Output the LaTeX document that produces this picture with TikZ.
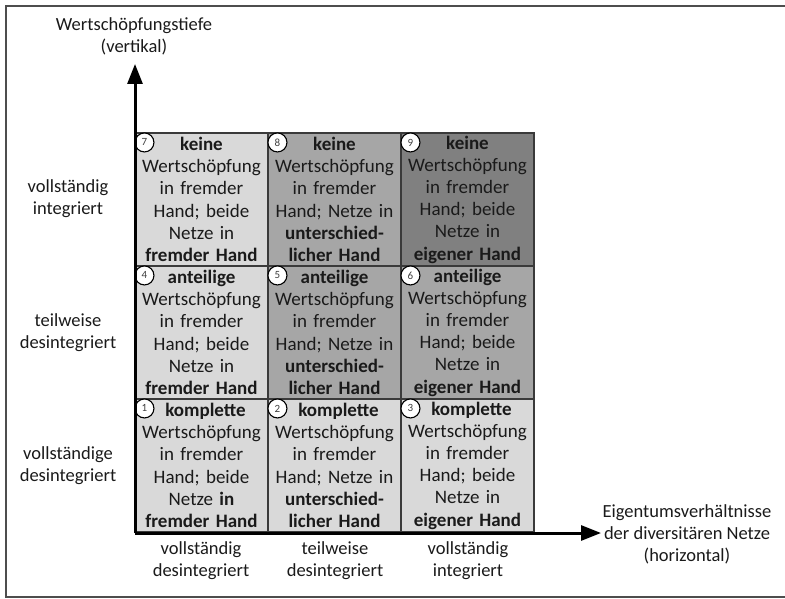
\documentclass[tikz,border=0pt]{standalone}
\usepackage{fontspec}
\setmainfont{Carlito}
\usetikzlibrary{arrows.meta}
\definecolor{framecol}{HTML}{4D4D4D}
\definecolor{cellline}{HTML}{3A3A3A}
\definecolor{light}{HTML}{D9D9D9}
\definecolor{mid}{HTML}{A6A6A6}
\definecolor{dark}{HTML}{808080}
\definecolor{txt}{HTML}{1A1A1A}
\begin{document}
\begin{tikzpicture}[x=1pt,y=-1pt,
  cell/.style={draw=cellline, line width=1.1pt, minimum width=133pt, minimum height=133pt,
    inner sep=0pt, text width=131pt, align=center, text=txt,
    font=\fontsize{19}{22.2}\selectfont},
  numc/.style={circle, draw=black, fill=white, line width=1.1pt, minimum size=19pt,
    inner sep=0pt, text=black!75, font=\fontsize{11}{11}\selectfont},
  lbl/.style={align=center, text=txt, inner sep=0pt, font=\fontsize{18.5}{22}\selectfont},
  axis/.style={line width=3pt, -{Triangle[length=20pt,width=15pt]}}
]
\useasboundingbox (0,0) rectangle (785,599);
\draw[framecol, line width=1.6pt] (790,6) -- (6,6) -- (6,597) -- (790,597);

% row 3 (top)
\node[cell, fill=light] (c7) at (201.5,199.5) {\textbf{keine}\\Wertschöpfung\\in fremder\\Hand; beide\\Netze in\\\textbf{fremder Hand}};
\node[cell, fill=mid] (c8) at (334.5,199.5) {\textbf{keine}\\Wertschöpfung\\in fremder\\Hand; Netze in\\\textbf{unterschied-}\\\textbf{licher Hand}};
\node[cell, fill=dark] (c9) at (467.5,199.5) {\textbf{keine}\\Wertschöpfung\\in fremder\\Hand; beide\\Netze in\\\textbf{eigener Hand}};
% row 2
\node[cell, fill=light] (c4) at (201.5,332.5) {\textbf{anteilige}\\Wertschöpfung\\in fremder\\Hand; beide\\Netze in\\\textbf{fremder Hand}};
\node[cell, fill=mid] (c5) at (334.5,332.5) {\textbf{anteilige}\\Wertschöpfung\\in fremder\\Hand; Netze in\\\textbf{unterschied-}\\\textbf{licher Hand}};
\node[cell, fill=mid] (c6) at (467.5,332.5) {\textbf{anteilige}\\Wertschöpfung\\in fremder\\Hand; beide\\Netze in\\\textbf{eigener Hand}};
% row 1
\node[cell, fill=light] (c1) at (201.5,465.5) {\hspace*{8pt}\textbf{komplette}\\Wertschöpfung\\in fremder\\Hand; beide\\Netze \textbf{in}\\\textbf{fremder Hand}};
\node[cell, fill=light] (c2) at (334.5,465.5) {\hspace*{8pt}\textbf{komplette}\\Wertschöpfung\\in fremder\\Hand; Netze in\\\textbf{unterschied-}\\\textbf{licher Hand}};
\node[cell, fill=light] (c3) at (467.5,465.5) {\hspace*{8pt}\textbf{komplette}\\Wertschöpfung\\in fremder\\Hand; beide\\Netze in\\\textbf{eigener Hand}};

\foreach \c/\n in {c1/1,c2/2,c3/3,c4/4,c5/5,c6/6,c7/7,c8/8,c9/9}
  \node[numc] (n\n) at ([shift={(10,10)}]\c.north west) {\n};

% axes
\coordinate (o) at (135,533);
\coordinate (ytip) at (135,64);
\coordinate (xtip) at (601,533);
\draw[axis] (o) -- (ytip);
\draw[axis] (o) -- (xtip);

% labels
\node[lbl] (ty) at (134,36) {Wertschöpfungstiefe\\(vertikal)};
\node[lbl] (l3) at (68,199) {vollständig\\integriert};
\node[lbl] (l2) at (68,333) {teilweise\\desintegriert};
\node[lbl] (l1) at (68,466) {vollständige\\desintegriert};
\node[lbl] (b1) at (201,561) {vollständig\\desintegriert};
\node[lbl] (b2) at (335,561) {teilweise\\desintegriert};
\node[lbl] (b3) at (468,561) {vollständig\\integriert};
\node[lbl] (tx) at (687,534) {Eigentumsverhältnisse\\der diversitären Netze\\(horizontal)};
\end{tikzpicture}
\end{document}
